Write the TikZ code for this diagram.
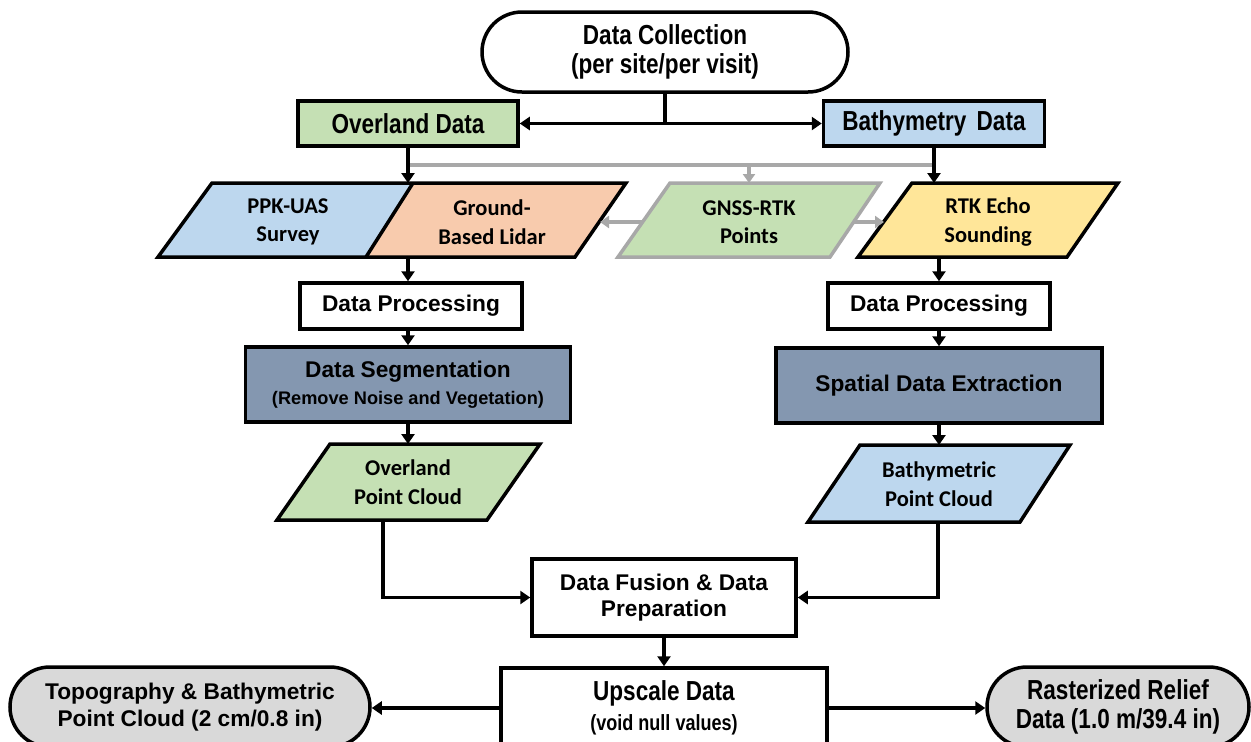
\documentclass[tikz,border=0pt]{standalone}
\usepackage{fontspec}
\usetikzlibrary{shapes.misc,arrows.meta,calc}
\newfontfamily\narrowsf[FakeStretch=0.82]{Liberation Sans}
\newfontfamily\arialsf{Liberation Sans}
\newfontfamily\calsf{Carlito}
\definecolor{landgreen}{RGB}{197,224,180}
\definecolor{waterblue}{RGB}{189,215,238}
\definecolor{peach}{RGB}{248,203,173}
\definecolor{sand}{RGB}{255,230,153}
\definecolor{slate}{RGB}{132,151,176}
\definecolor{pillgray}{RGB}{217,217,217}
\definecolor{linkgray}{RGB}{168,168,168}
\tikzset{
  box/.style={draw, line width=3.5pt, rectangle, align=center, inner sep=0pt},
  pill/.style={draw, line width=3.5pt, rounded rectangle, align=center, inner sep=0pt},
  slant/.style={draw, line width=3.5pt, line join=miter},
  arr/.style={line width=3.4pt, -{Triangle[length=10pt,width=13pt]}},
  link/.style={line width=3.5pt, draw=linkgray},
  garr/.style={line width=3.5pt, draw=linkgray, -{Triangle[length=9pt,width=12pt]}},
  narrowtxt/.style={font=\narrowsf\bfseries\fontsize{27.5}{29.5}\selectfont},
  arialtxt/.style={font=\arialsf\bfseries\fontsize{22.7}{26.5}\selectfont},
  caltxt/.style={align=center, inner sep=0pt, font=\calsf\bfseries\fontsize{22.5}{28.5}\selectfont},
}
\begin{document}
\begin{tikzpicture}[x=1pt,y=-1pt]
\useasboundingbox (0,0) rectangle (1251,742);
\clip (0,0) rectangle (1251,742);

% top of the flow
\node[pill, fill=white, minimum width=366pt, minimum height=80pt, narrowtxt] (dc) at (665,52) {Data Collection\\(per site/per visit)};
\node[box, fill=landgreen, minimum width=220pt, minimum height=45pt, narrowtxt] (od) at (408,123.5) {Overland Data};
\node[box, fill=waterblue, minimum width=221pt, minimum height=45pt, narrowtxt] (bd) at (934,123.5) {Bathymetry\hspace{4pt} Data};

% survey inputs
\coordinate (pa1) at (212,183);
\coordinate (pa2) at (413,183);
\coordinate (pa3) at (626,183);
\coordinate (pa4) at (575,257);
\coordinate (pa5) at (366,257);
\coordinate (pa6) at (158,257);
\fill[waterblue] (pa1) -- (pa2) -- (pa5) -- (pa6) -- cycle;
\fill[peach] (pa2) -- (pa3) -- (pa4) -- (pa5) -- cycle;
\draw[slant] (pa1) -- (pa3) -- (pa4) -- (pa6) -- cycle;
\draw[slant] (pa2) -- (pa5);
\node[caltxt] (ppk) at (288,222) {PPK-UAS\\Survey};
\node[caltxt] (gbl) at (492,222) {Ground-\\Based Lidar};

\draw[slant, draw=linkgray, fill=landgreen] (670,183) -- (880,183) -- (830,257) -- (618,257) -- cycle;
\node[caltxt] (gnss) at (749,222) {GNSS-RTK\\Points};

\draw[slant, fill=sand] (912,183) -- (1118,183) -- (1067,257) -- (858,257) -- cycle;
\node[caltxt] (rtk) at (988,222) {RTK Echo\\Sounding};

% processing columns
\node[box, fill=white, minimum width=222pt, minimum height=46pt, arialtxt] (dp1) at (411,306) {Data Processing};
\node[box, fill=white, minimum width=222pt, minimum height=46pt, arialtxt] (dp2) at (939,306) {Data Processing};
\node[box, fill=slate, minimum width=325pt, minimum height=75pt, arialtxt] (seg) at (408,384.5) {Data Segmentation\\{\fontsize{18.2}{20}\selectfont(Remove Noise and Vegetation)}};
\node[box, fill=slate, minimum width=326pt, minimum height=75pt, arialtxt] (sde) at (939,385.5) {Spatial Data Extraction};

\draw[slant, fill=landgreen] (330,444) -- (540,444) -- (487,520) -- (277,520) -- cycle;
\node[caltxt] (opc) at (408,482) {Overland\\Point Cloud};
\draw[slant, fill=waterblue] (860,445) -- (1070,445) -- (1020,522) -- (808,522) -- cycle;
\node[caltxt] (bpc) at (939,484) {Bathymetric\\Point Cloud};

% merging and outputs
\node[box, fill=white, minimum width=264pt, minimum height=77pt, arialtxt] (fus) at (664,597.5) {Data Fusion \& Data\\Preparation};
\node[box, fill=white, minimum width=326pt, minimum height=80pt, narrowtxt] (ups) at (664,708) {Upscale Data\\{\fontsize{22}{24}\selectfont(void null values)}};
\node[pill, fill=pillgray, minimum width=360pt, minimum height=80pt, arialtxt] (topo) at (190,707) {Topography \& Bathymetric\\Point Cloud (2 cm/0.8 in)};
\node[pill, fill=pillgray, minimum width=262pt, minimum height=80pt, narrowtxt] (ras) at (1118,707) {Rasterized Relief\\Data (1.0 m/39.4 in)};

% connector anchor points on slanted shapes
\coordinate (gl) at (408,165);
\coordinate (gr) at (934,165);
\coordinate (gm) at (749,165);
\coordinate (gnssW) at (642,222);
\coordinate (gnssE) at (854,222);
\coordinate (lidE) at (600,222);
\coordinate (rtkW) at (884,222);
\coordinate (pbot) at (408,257);
\coordinate (rtkbot) at (939,257);
\coordinate (opctop) at (408,444);
\coordinate (bpctop) at (939,445);
\coordinate (opcbot) at (383,520);
\coordinate (bpcbot) at (938,522);

% GNSS links
\draw[link] (gl) -- (gr);
\draw[garr] (gm) -- (gm |- pa1);
\draw[garr] (gnssW) -- (lidE);
\draw[garr] (gnssE) -- (rtkW);

% main flow
\draw[arr] (dc.south) |- (od.east);
\draw[arr] (dc.south) |- (bd.west);
\draw[arr] (od.south) -- (od.south |- pa1);
\draw[arr] (bd.south) -- (bd.south |- pa1);
\draw[arr] (pbot) -- (pbot |- dp1.north);
\draw[arr] (seg.north |- dp1.south) -- (seg.north);
\draw[arr] (seg.south) -- (opctop);
\draw[arr] (rtkbot) -- (dp2.north);
\draw[arr] (dp2.south) -- (sde.north);
\draw[arr] (sde.south) -- (bpctop);
\draw[arr] (opcbot) |- (fus.west);
\draw[arr] (bpcbot) |- (fus.east);
\draw[arr] (fus.south) -- (ups.north);
\draw[arr] (ups.west) -- (ups.west -| topo.east);
\draw[arr] (ups.east) -- (ups.east -| ras.west);
\end{tikzpicture}
\end{document}
